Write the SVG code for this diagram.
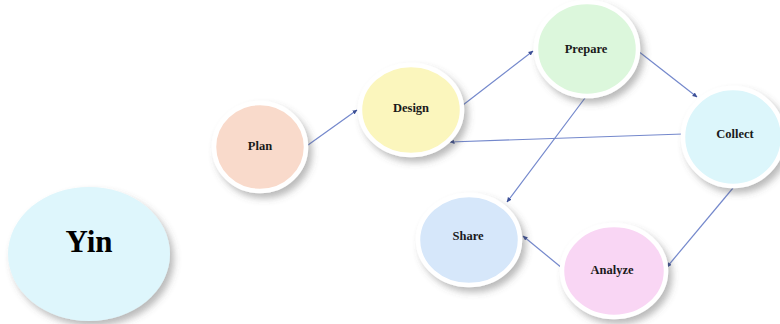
<svg xmlns="http://www.w3.org/2000/svg" width="780" height="324" viewBox="0 0 780 324">
<defs>
<filter id="sh" x="-30%" y="-30%" width="170%" height="170%">
<feDropShadow dx="4" dy="5" stdDeviation="3.5" flood-color="#555" flood-opacity="0.4"/>
</filter>
<marker id="ar" markerWidth="5" markerHeight="5" refX="4.5" refY="2.5" orient="auto" markerUnits="userSpaceOnUse">
<path d="M0,0.3 L5,2.5 L0,4.7 Z" fill="#3c4f96"/>
</marker>
<style>
.n{stroke:#fff;stroke-width:4.5;filter:url(#sh)}
.t{font-family:"Liberation Serif",serif;font-weight:bold;font-size:12.5px;fill:#1a1a1a;text-anchor:middle}
.c{stroke:#7488cc;stroke-width:1.2;fill:none;marker-end:url(#ar)}
</style>
</defs>
<rect width="780" height="324" fill="#fff"/>
<g id="connectors">
<line class="c" x1="308" y1="145" x2="357" y2="110"/>
<line class="c" x1="463" y1="105" x2="533" y2="51"/>
<line class="c" x1="638" y1="51" x2="697" y2="97"/>
<line class="c" x1="683" y1="134" x2="450" y2="142"/>
<line class="c" x1="585" y1="98" x2="507" y2="202"/>
<line class="c" x1="733" y1="188" x2="667" y2="267"/>
<line class="c" x1="562" y1="268" x2="523" y2="236"/>
</g>
<g id="yin">
<ellipse cx="89" cy="254" rx="81" ry="67" fill="#def6fc" filter="url(#sh)"/>
<text x="89" y="252" font-family="Liberation Serif,serif" font-weight="bold" font-size="31" text-anchor="middle" fill="#000">Yin</text>
</g>
<g id="plan">
<ellipse class="n" cx="260" cy="147" rx="46" ry="44" fill="#f9dacb"/>
<text class="t" x="260" y="150">Plan</text>
</g>
<g id="design">
<ellipse class="n" cx="411" cy="110" rx="51" ry="45" fill="#fbf6bd"/>
<text class="t" x="411" y="112">Design</text>
</g>
<g id="prepare">
<ellipse class="n" cx="587" cy="49" rx="51" ry="47" fill="#dcf7dc"/>
<text class="t" x="586" y="53">Prepare</text>
</g>
<g id="collect">
<ellipse class="n" cx="733" cy="137" rx="50" ry="49" fill="#dcf6fb"/>
<text class="t" x="735" y="138">Collect</text>
</g>
<g id="share">
<ellipse class="n" cx="469" cy="240" rx="51" ry="45" fill="#d6e7fa"/>
<text class="t" x="468" y="240">Share</text>
</g>
<g id="analyze">
<ellipse class="n" cx="614" cy="271" rx="52" ry="46" fill="#f9d6f4"/>
<text class="t" x="612" y="274">Analyze</text>
</g>
</svg>
